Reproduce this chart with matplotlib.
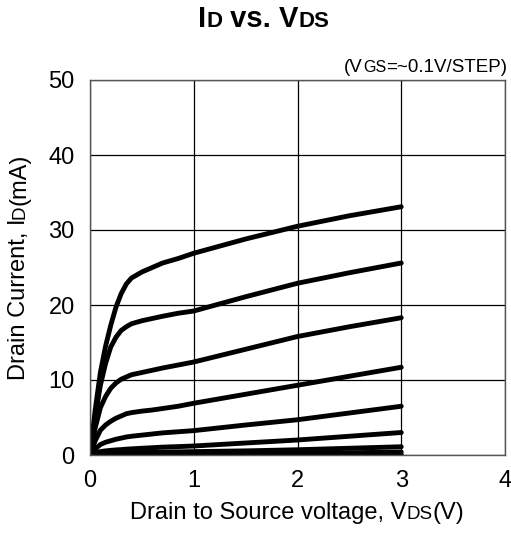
import matplotlib
matplotlib.use("Agg")
import matplotlib.pyplot as plt
from matplotlib.transforms import IdentityTransform

plt.rcParams["font.family"] = ["Liberation Sans", "DejaVu Sans"]

W, H = 511, 539

vds = [0, 0.05, 0.1, 0.15, 0.2, 0.25, 0.3, 0.35, 0.4, 0.5, 0.6, 0.7, 0.85, 1.0, 1.5, 2.0, 2.5, 3.0]
id_curves = [
    [0, 6.0, 11.0, 14.5, 17.3, 19.7, 21.5, 22.8, 23.6, 24.4, 25.0, 25.6, 26.2, 26.9, 28.8, 30.5, 31.9, 33.1],
    [0, 5.0, 9.3, 12.2, 14.4, 15.7, 16.6, 17.1, 17.5, 17.9, 18.2, 18.5, 18.9, 19.2, 21.1, 22.9, 24.3, 25.6],
    [0, 3.6, 6.3, 7.8, 8.9, 9.6, 10.1, 10.4, 10.7, 11.0, 11.3, 11.6, 12.0, 12.4, 14.1, 15.8, 17.1, 18.3],
    [0, 1.9, 3.3, 4.0, 4.5, 4.9, 5.2, 5.5, 5.65, 5.85, 6.0, 6.2, 6.5, 6.9, 8.1, 9.3, 10.5, 11.7],
    [0, 0.8, 1.4, 1.7, 1.9, 2.1, 2.25, 2.4, 2.5, 2.65, 2.8, 2.95, 3.1, 3.25, 4.0, 4.7, 5.6, 6.5],
    [0, 0.3, 0.45, 0.55, 0.62, 0.68, 0.72, 0.78, 0.82, 0.9, 0.97, 1.05, 1.12, 1.2, 1.6, 2.0, 2.5, 3.0],
    [0, 0.1, 0.15, 0.2, 0.22, 0.25, 0.27, 0.29, 0.31, 0.34, 0.37, 0.4, 0.42, 0.45, 0.55, 0.7, 0.9, 1.1],
    [0, 0.03, 0.05, 0.06, 0.07, 0.08, 0.09, 0.1, 0.1, 0.11, 0.12, 0.12, 0.13, 0.15, 0.2, 0.25, 0.3, 0.4],
    [0, 0.01, 0.01, 0.02, 0.02, 0.02, 0.02, 0.03, 0.03, 0.03, 0.03, 0.03, 0.04, 0.04, 0.05, 0.06, 0.07, 0.08],
]
x_ticks = [0, 1, 2, 3, 4]
y_ticks = [0, 10, 20, 30, 40, 50]


def rich(fig, x, y, parts, ha="center", rotation=0, weight="normal"):
    # parts: (text, size); x, y in pixels from top-left, baseline anchored
    renderer = fig.canvas.get_renderer()
    texts, widths = [], []
    for s, size in parts:
        t = fig.text(0, 0, s, fontsize=size, fontweight=weight, ha="left",
                     va="baseline", transform=IdentityTransform())
        widths.append(t.get_window_extent(renderer).width)
        texts.append(t)
    total = sum(widths)
    start = {"center": -total / 2, "left": 0, "right": -total}[ha]
    pos = start
    for t, w in zip(texts, widths):
        if rotation == 90:
            t.set_position((x, H - y + pos))
            t.set_rotation(90)
            t.set_rotation_mode("anchor")
        else:
            t.set_position((x + pos, H - y))
        pos += w


fig = plt.figure(figsize=(W / 100, H / 100), dpi=100)
ax = fig.add_axes([90 / W, 1 - 455 / H, 415 / W, 375 / H])

for ys in id_curves:
    ax.plot(vds, ys, color="black", lw=3.5, solid_capstyle="round", solid_joinstyle="round")

ax.set_xlim(0, 4)
ax.set_ylim(0, 50)
ax.set_xticks(x_ticks)
ax.set_yticks(y_ticks)
ax.tick_params(length=0, labelsize=17, pad=11)
ax.grid(True, color="black", lw=0.9)
for sp in ax.spines.values():
    sp.set_color("#555555")
    sp.set_linewidth(1.0)

fig.canvas.draw()
rich(fig, 264, 27, [("I", 21), ("D", 16), (" vs. V", 21), ("DS", 16)], weight="bold")
rich(fig, 507, 72, [("(V", 13.5), ("GS", 11.5), ("=~0.1V/STEP)", 13.5)], ha="right")
rich(fig, 297, 519, [("Drain to Source voltage, V", 17), ("DS", 13.5), ("(V)", 17)])
rich(fig, 25, 267, [("Drain Current, I", 17), ("D", 13.5), ("(mA)", 17)], rotation=90)

fig.savefig("out.png", dpi=100)
